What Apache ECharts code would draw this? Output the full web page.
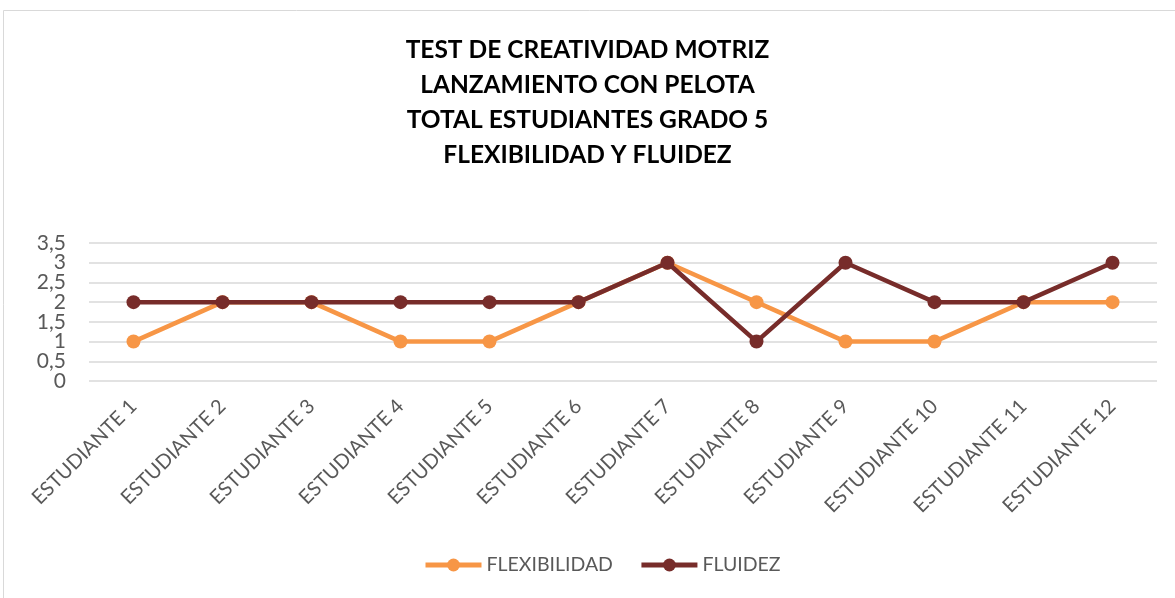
<!DOCTYPE html>
<html>
<head>
<meta charset="utf-8">
<script src="https://cdn.jsdelivr.net/npm/echarts@6/dist/echarts.min.js"></script>
<style>
	html, body { margin: 0; padding: 0; background: #fff; }
	#main { width: 1175px; height: 598px; }
</style>
</head>
<body>
<div id="main"></div>
<script>
// datos del gráfico
var estudiantes = ['ESTUDIANTE 1', 'ESTUDIANTE 2', 'ESTUDIANTE 3', 'ESTUDIANTE 4', 'ESTUDIANTE 5', 'ESTUDIANTE 6',
	'ESTUDIANTE 7', 'ESTUDIANTE 8', 'ESTUDIANTE 9', 'ESTUDIANTE 10', 'ESTUDIANTE 11', 'ESTUDIANTE 12'];
var flexibilidad = [1, 2, 2, 1, 1, 2, 3, 2, 1, 1, 2, 2];
var fluidez = [2, 2, 2, 2, 2, 2, 3, 1, 3, 2, 2, 3];
var titulo = 'TEST DE CREATIVIDAD MOTRIZ\nLANZAMIENTO CON PELOTA\nTOTAL ESTUDIANTES GRADO 5\nFLEXIBILIDAD Y FLUIDEZ';

var font = 'Lato, "Open Sans", sans-serif';
var myChart = echarts.init(document.getElementById('main'));

// eje Y: etiquetas enteras y medias en dos ejes para que no se oculten
function ejeY(mostrarEnteros, conRejilla) {
	return {
		type: 'value',
		position: 'left',
		min: 0,
		max: 3.5,
		interval: 0.5,
		axisLine: { show: false },
		axisTick: { show: false },
		splitLine: { show: conRejilla, lineStyle: { color: '#d9d9d9', width: 1.5 } },
		axisLabel: {
			margin: 23,
			showMinLabel: true,
			showMaxLabel: true,
			fontFamily: font,
			fontSize: 21,
			color: '#595959',
			formatter: function(v) {
				var entero = Math.round(v) === v;
				if(entero !== mostrarEnteros) return '';
				return String(v).replace('.', ',');
			}
		}
	};
}

var option = {
	backgroundColor: '#fff',
	animation: false,
	title: {
		text: titulo,
		left: 'center',
		top: 28,
		textStyle: {
			fontFamily: font,
			fontWeight: 'bold',
			fontSize: 24.5,
			lineHeight: 35,
			color: '#000'
		}
	},
	graphic: [{
		type: 'rect',
		shape: { x: 3.5, y: 10.5, width: 1180, height: 600 },
		style: { fill: 'none', stroke: '#d9d9d9', lineWidth: 1 },
		silent: true
	}],
	legend: {
		bottom: 18,
		left: 418,
		itemWidth: 56,
		itemHeight: 16,
		itemGap: 26,
		lineStyle: { width: 5 },
		textStyle: { fontFamily: font, fontSize: 19.5, color: '#595959' },
		data: ['FLEXIBILIDAD', 'FLUIDEZ']
	},
	grid: {
		left: 89,
		right: 18,
		top: 243,
		bottom: 217
	},
	xAxis: {
		type: 'category',
		data: estudiantes,
		boundaryGap: true,
		axisLine: { show: false },
		axisTick: { show: false },
		axisLabel: {
			interval: 0,
			rotate: 45,
			margin: 22,
			fontFamily: font,
			fontSize: 20,
			color: '#595959'
		}
	},
	yAxis: [ejeY(true, true), ejeY(false, false)],
	series: [{
		name: 'FLEXIBILIDAD',
		type: 'line',
		data: flexibilidad,
		color: '#f79646',
		symbol: 'circle',
		symbolSize: 14,
		lineStyle: { width: 4.5 },
		z: 2
	}, {
		name: 'FLUIDEZ',
		type: 'line',
		data: fluidez,
		color: '#772c2a',
		symbol: 'circle',
		symbolSize: 14,
		lineStyle: { width: 4.5 },
		z: 3
	}]
};
myChart.setOption(option);
</script>
</body>
</html>
